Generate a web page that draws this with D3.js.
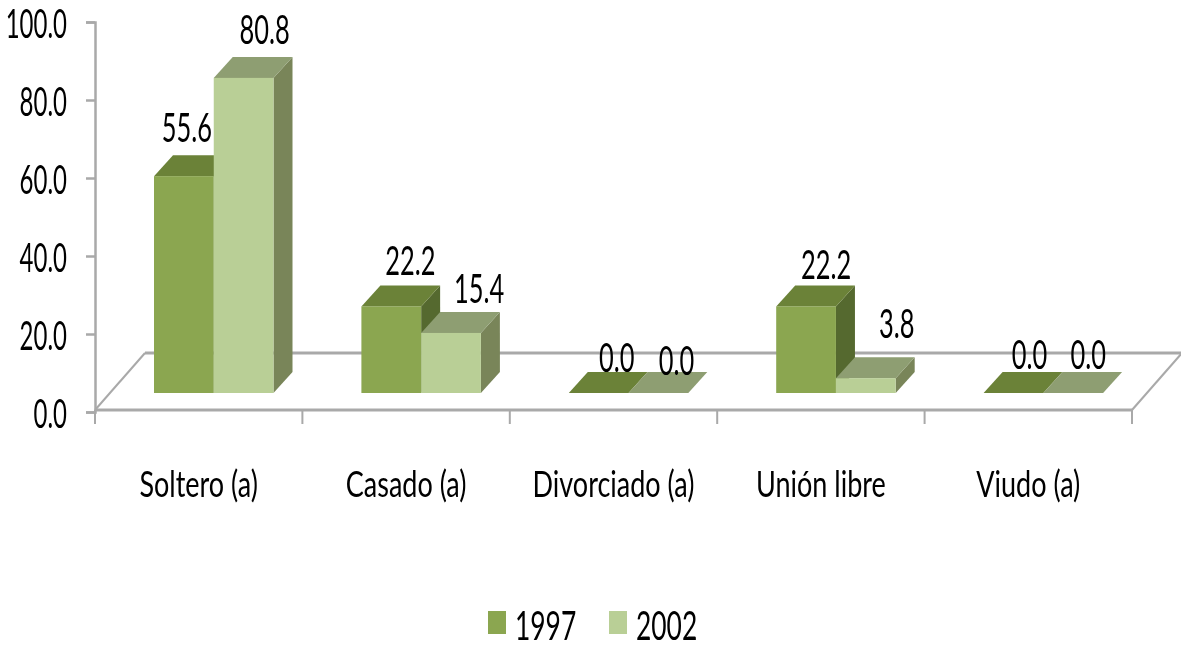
<!DOCTYPE html>
<html><head><meta charset="utf-8">
<script src="https://cdn.jsdelivr.net/npm/d3@7/dist/d3.min.js"></script>
<style>html,body{margin:0;padding:0;background:#fff;overflow:hidden}svg{display:block;filter:blur(0.6px)}text{font-family:Lato,sans-serif;fill:#000}</style>
</head><body><svg id="c" width="1181" height="645"></svg>
<script>
const categories = ["Soltero (a)","Casado (a)","Divorciado (a)","Unión libre","Viudo (a)"];
const seriesNames = ["1997","2002"];
const values1997 = [55.6,22.2,0.0,22.2,0.0];
const values2002 = [80.8,15.4,0.0,3.8,0.0];
const yTicks = [0,20,40,60,80,100];
const seriesValues = [values1997,values2002];

const front = ["#8ba650","#b9cf96"], top_ = ["#6b8238","#8e9e72"], side = ["#55692f","#798559"];
// layout
const axisX0=95, axisX1=1132, axisY0=412, axisY1=22, depthX=19, depthY=21, floorLift=19;
const floorDX=50, floorDY=57, floorFront=410;
// label nudges from the top-centre of each bar [dx,dy] per category/series
const labelNudge=[[[3,-13],[21,-13]],[[19,-10],[28,-9]],[[18,0],[18,3]],[[20,-6],[31,-19]],[[16,-3],[15,-3]]];

const svg=d3.select("#c");
const x=d3.scaleBand().domain(categories).range([axisX0,axisX1]);
const inner=d3.scaleBand().domain(seriesNames).range([59,178.5]);
const y=d3.scaleLinear().domain([0,100]).range([axisY0,axisY1]);

function squeeze(sel,sx){sel.each(function(){const t=d3.select(this);
  t.attr("transform",`translate(${+t.attr("x")||0},${+t.attr("y")||0}) scale(${sx},1)`).attr("x",0).attr("y",0).attr("dy",null);});}

const grey="#a9a9a9";
const fl=svg.append("g").attr("fill","none").attr("stroke",grey);
fl.append("path").attr("stroke-width",3).attr("d",d3.line()([[axisX0,floorFront],[axisX1,floorFront]]));
fl.append("path").attr("stroke-width",3).attr("d",d3.line()([[axisX0+floorDX,floorFront-floorDY],[axisX1+floorDX,floorFront-floorDY]]));
fl.append("path").attr("stroke-width",2).attr("d",d3.line()([[axisX0,floorFront],[axisX0+floorDX,floorFront-floorDY]]));
fl.append("path").attr("stroke-width",2).attr("d",d3.line()([[axisX1,floorFront],[axisX1+floorDX,floorFront-floorDY]]));

// y axis
const gy=svg.append("g").attr("transform",`translate(${axisX0},0)`)
  .call(d3.axisLeft(y).tickValues(yTicks).tickFormat(d3.format(".1f")).tickSize(9).tickPadding(19));
gy.select(".domain").attr("stroke",grey).attr("stroke-width",2.5);
gy.selectAll(".tick line").attr("stroke",grey).attr("stroke-width",2.5);
gy.selectAll("text").attr("font-size",40).attr("y",15).attr("text-anchor","end").attr("dy",null)
  .attr("font-family","Lato");
squeeze(gy.selectAll("text"),0.6);

// x axis
const gx=svg.append("g").attr("transform",`translate(0,${floorFront})`)
  .call(d3.axisBottom(x).tickSize(0).tickPadding(0));
gx.select(".domain").remove();
gx.selectAll(".tick line").remove();
gx.selectAll("text").attr("font-size",37).attr("y",87).attr("dy",null);
squeeze(gx.selectAll("text"),0.73);
svg.append("g").selectAll("line").data([...categories.map(c=>x(c)),axisX1]).join("line")
  .attr("x1",d=>d).attr("x2",d=>d).attr("y1",floorFront).attr("y2",424)
  .attr("stroke",grey).attr("stroke-width",2);

// bars
const rows=categories.map((c,i)=>seriesNames.map((s,j)=>({c,i,s,j,v:seriesValues[j][i]})));
const bars=svg.append("g").selectAll("g").data(rows.flat()).join("g");
const pts=d=>{const a=x(d.c)+inner(d.s),b=a+inner.bandwidth(),base=y(0)-floorLift,t=y(d.v)-floorLift;return{a,b,base,t};};
bars.filter(d=>d.v>0).append("path").attr("fill",d=>side[d.j]).attr("d",d=>{const p=pts(d);
  return d3.line()([[p.b,p.t],[p.b+depthX,p.t-depthY],[p.b+depthX,p.base-depthY],[p.b,p.base]])+"Z";});
bars.append("path").attr("fill",d=>top_[d.j]).attr("d",d=>{const p=pts(d);
  return d3.line()([[p.a,p.t],[p.a+depthX,p.t-depthY],[p.b+depthX,p.t-depthY],[p.b,p.t]])+"Z";});
bars.filter(d=>d.v>0).append("rect").attr("fill",d=>front[d.j])
  .attr("x",d=>pts(d).a).attr("y",d=>pts(d).t).attr("width",inner.bandwidth()).attr("height",d=>pts(d).base-pts(d).t);

// data labels
const labels=svg.append("g").selectAll("text").data(rows.flat()).join("text")
  .attr("font-size",41).attr("text-anchor","middle").text(d=>d3.format(".1f")(d.v))
  .attr("x",d=>{const p=pts(d);return (p.a+p.b)/2+labelNudge[d.i][d.j][0];})
  .attr("y",d=>{const p=pts(d);return p.t-depthY+labelNudge[d.i][d.j][1];});
squeeze(labels,0.62);

// legend
const legendX=d3.scaleOrdinal().domain(seriesNames).range([488,609]);
const lg=svg.append("g").selectAll("g").data(seriesNames).join("g");
lg.append("rect").attr("x",d=>legendX(d)).attr("y",611).attr("width",18).attr("height",23).attr("fill",(d,i)=>front[i]);
const lt=lg.append("text").attr("x",d=>legendX(d)+27).attr("y",640).attr("font-size",40).text(d=>d);
squeeze(lt,0.66);
</script></body></html>
